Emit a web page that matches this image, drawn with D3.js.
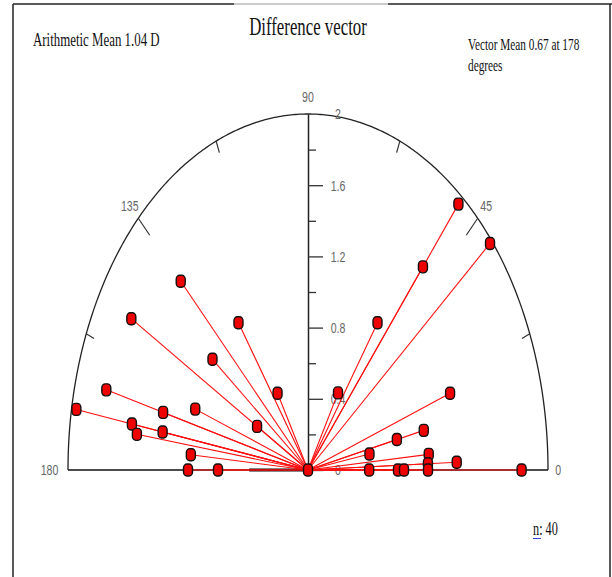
<!DOCTYPE html>
<html><head><meta charset="utf-8">
<script src="https://cdn.jsdelivr.net/npm/d3@7"></script>
<style>html,body{margin:0;padding:0;background:#fff;} svg{display:block;}</style>
</head><body>
<svg id="chart" width="612" height="577"></svg>
<script>
// Difference vectors: magnitude (D) and angle (degrees)
const magnitudes = [1.50, 1.70, 1.01, 1.01, 1.74, 0.50, 1.96, 1.25, 1.00, 1.49, 0.49, 1.44, 1.23, 0.98, 1.00, 0.75,
                    1.95, 1.98, 1.49, 1.01, 0.50, 1.26, 0.99, 0.76, 0.52, 1.01, 1.00, 1.24, 0.51, 0.75, 0.80, 1.00, 1.78, 0];
const angles     = [135, 150, 125, 142, 165, 120.5, 170, 165, 160, 170, 150, 172, 170, 175, 180, 180,
                    50, 40, 50, 55, 60, 20, 13, 13, 10, 5, 2, 2, 0, 0, 0, 0, 0, 0];
const radialMajor = [0, 0.4, 0.8, 1.2, 1.6, 2];
const radialMinor = [0.2, 0.6, 1.0, 1.4, 1.8];
const angleMajor = [45, 135];
const angleMinor = [22.5, 67.5, 112.5, 157.5];
const angleLabels = ["0", "45", "90", "135", "180"];
const angleLabelAngles = [0, 45, 90, 135, 180];
const meanBar = {magnitude: 0.49, angle: 180};
const title = "Difference vector";
const leftNote = "Arithmetic Mean 1.04 D";
const rightNote = ["Vector Mean 0.67 at 178", "degrees"];
const nLabel = "n: 40";

const svg = d3.select("#chart");
const x = d3.scaleLinear().domain([-2, 2]).range([68, 548]);
const y = d3.scaleLinear().domain([0, 2]).range([470, 114]);
const rad = a => a * Math.PI / 180;
const px = (r, a) => x(r * Math.cos(rad(a)));
const py = (r, a) => y(r * Math.sin(rad(a)));
const SY = 1.45;

// frame
const frame = svg.append("g").attr("fill", "none");
frame.append("line").attr("x1", 13).attr("y1", 4).attr("x2", 13).attr("y2", 577).attr("stroke", "#222").attr("stroke-width", 1.5);
frame.append("line").attr("x1", 610).attr("y1", 4).attr("x2", 610).attr("y2", 577).attr("stroke", "#222").attr("stroke-width", 1.5);
frame.append("line").attr("x1", 13).attr("y1", 4).attr("x2", 234).attr("y2", 4).attr("stroke", "#222").attr("stroke-width", 1.5);
frame.append("line").attr("x1", 234).attr("y1", 4).attr("x2", 388).attr("y2", 4).attr("stroke", "#999").attr("stroke-width", 1.2);
frame.append("line").attr("x1", 388).attr("y1", 4).attr("x2", 612).attr("y2", 4).attr("stroke", "#222").attr("stroke-width", 1.5);

// texts
function stretchedText(txt, tx, ty, size, anchor, family, color) {
  svg.append("text").attr("transform", `translate(${tx},${ty}) scale(1,${SY})`)
    .attr("text-anchor", anchor || "start")
    .attr("font-family", family || "'Liberation Serif', 'Times New Roman', serif")
    .attr("font-size", size).attr("fill", color || "#111").text(txt);
}
stretchedText(title, 308, 35, 16.8, "middle");
stretchedText(leftNote, 33, 46, 12.9, "start");
stretchedText(rightNote[0], 468, 50, 11.3, "start");
stretchedText(rightNote[1], 468, 71, 11.3, "start");
stretchedText(nLabel, 533, 535, 12.3, "start");
// spell-check wavy underline under "n"
svg.append("path")
  .attr("d", d3.line()(d3.range(0, 9).map(i => [533 + i, 538 + (i % 2 ? 1 : 0)])))
  .attr("fill", "none").attr("stroke", "#3344dd").attr("stroke-width", 1);

// arc
const arcPts = d3.range(0, 180.01, 0.5).map(a => [px(2, a), py(2, a)]);
svg.append("path").attr("d", d3.line()(arcPts)).attr("fill", "none").attr("stroke", "#222").attr("stroke-width", 1.3);
// baseline
svg.append("line").attr("x1", x(-2)).attr("x2", x(2)).attr("y1", y(0)).attr("y2", y(0)).attr("stroke", "#111").attr("stroke-width", 1.3);

// arc ticks
angleMajor.forEach(a => svg.append("line").attr("x1", px(2, a)).attr("y1", py(2, a)).attr("x2", px(1.865, a)).attr("y2", py(1.865, a)).attr("stroke", "#333").attr("stroke-width", 1.2));
angleMinor.forEach(a => svg.append("line").attr("x1", px(2, a)).attr("y1", py(2, a)).attr("x2", px(1.93, a)).attr("y2", py(1.93, a)).attr("stroke", "#333").attr("stroke-width", 1.2));

// angle labels
angleLabels.forEach((t, i) => {
  const a = angleLabelAngles[i];
  let r = 2.1, anchor = "middle";
  if (a === 0) { r = 2.06; anchor = "start"; }
  if (a === 180) { r = 2.08; anchor = "end"; }
  svg.append("text").attr("transform", `translate(${px(r, a)},${py(r, a)}) scale(1,${SY})`)
    .attr("text-anchor", anchor).attr("dy", "0.35em")
    .attr("font-family", "'Liberation Sans', Arial, sans-serif").attr("font-size", 10.6).attr("fill", "#666").text(t);
});

// radial axis
const axMinor = svg.append("g").attr("transform", `translate(${x(0)},0)`)
  .call(d3.axisRight(y).tickValues(radialMinor).tickSize(8).tickSizeOuter(0).tickFormat(""));
axMinor.select(".domain").remove();
axMinor.selectAll(".tick line").attr("stroke", "#333").attr("stroke-width", 1.3);
const axMajor = svg.append("g").attr("transform", `translate(${x(0)},0)`)
  .call(d3.axisRight(y).tickValues(radialMajor).tickSize(15).tickSizeOuter(0).tickFormat(d3.format("~g")));
axMajor.select(".domain").attr("stroke", "#222").attr("stroke-width", 1.5);
axMajor.selectAll(".tick line").attr("stroke", "#333").attr("stroke-width", 1.3)
  .attr("display", d => d === 2 ? "none" : null);
axMajor.selectAll(".tick text").attr("x", 30).attr("text-anchor", "middle")
  .attr("transform", `scale(1,${SY})`).attr("dy", "0.32em")
  .attr("font-family", "'Liberation Sans', Arial, sans-serif").attr("font-size", 10.6).attr("fill", "#666");

// mean bar
svg.append("line").attr("x1", x(0)).attr("y1", y(0)).attr("x2", px(meanBar.magnitude, meanBar.angle)).attr("y2", py(meanBar.magnitude, meanBar.angle))
  .attr("stroke", "#111").attr("stroke-width", 3);

// vectors
const data = magnitudes.map((m, i) => ({m, a: angles[i]}));
svg.append("g").selectAll("line").data(data).join("line")
  .attr("x1", x(0)).attr("y1", y(0))
  .attr("x2", d => px(d.m, d.a)).attr("y2", d => py(d.m, d.a))
  .attr("stroke", "#ff1010").attr("stroke-width", 1.1);
svg.append("g").selectAll("rect").data(data).join("rect")
  .attr("x", d => px(d.m, d.a) - 4.5).attr("y", d => py(d.m, d.a) - 6)
  .attr("width", 9).attr("height", 12).attr("rx", 3.5).attr("ry", 4)
  .attr("fill", "#ee0000").attr("stroke", "#111").attr("stroke-width", 1.4);
</script>
</body></html>
